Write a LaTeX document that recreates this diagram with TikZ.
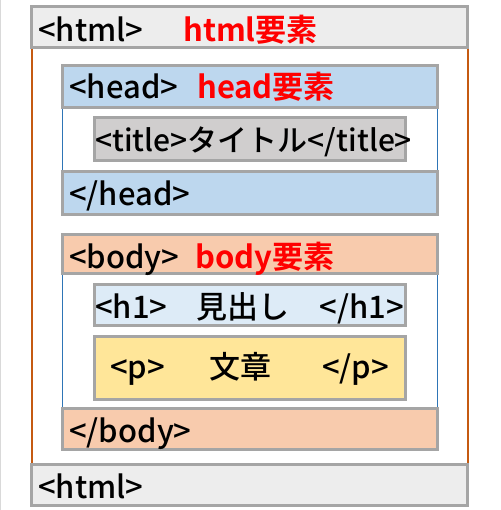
\documentclass[tikz,border=0pt]{standalone}
\usepackage{fontspec}
\setmainfont{Noto Sans CJK JP Medium}[BoldFont={Noto Sans CJK JP Bold}]
\usetikzlibrary{backgrounds}
\definecolor{boxgray}{HTML}{A5A5A5}
\definecolor{htmlfill}{HTML}{EDEDED}
\definecolor{headfill}{HTML}{BDD7EE}
\definecolor{titlefill}{HTML}{D0CECE}
\definecolor{bodyfill}{HTML}{F8CBAD}
\definecolor{hfill}{HTML}{DDEBF7}
\definecolor{pfill}{HTML}{FFE699}
\definecolor{htmlline}{HTML}{C55A11}
\definecolor{headline}{HTML}{2E75B6}
\definecolor{tagred}{HTML}{FF0000}

\begin{document}
\begin{tikzpicture}[x=1pt,y=-1pt,
		box/.style={draw=boxgray,line width=3pt,anchor=north west,inner sep=0pt,outer sep=0pt},
		txt/.style={anchor=base west,inner sep=0pt,font=\fontsize{31}{36}\selectfont},
		redtxt/.style={txt,text=tagred,font=\fontsize{31}{36}\selectfont\bfseries}]
		\useasboundingbox (0,0) rectangle (500,510);
		\draw[black!15,line width=1pt] (0.5,0) -- (0.5,510);
		\node[box,fill=htmlfill,minimum width=436pt,minimum height=41pt] (htmlopen) at (31.5,6.5) {};
		\node[box,fill=headfill,minimum width=375pt,minimum height=42pt] (headopen) at (62.5,65.5) {};
		\node[box,fill=titlefill,minimum width=311pt,minimum height=43pt] (title) at (94.5,117.5) {};
		\node[box,fill=headfill,minimum width=375pt,minimum height=43pt] (headclose) at (62.5,171.5) {};
		\node[box,fill=bodyfill,minimum width=375pt,minimum height=39pt] (bodyopen) at (62.5,234.5) {};
		\node[box,fill=hfill,minimum width=311pt,minimum height=41pt] (h1) at (94.5,284.5) {};
		\node[box,fill=pfill,minimum width=311pt,minimum height=63pt] (p) at (94.5,336.5) {};
		\node[box,fill=bodyfill,minimum width=375pt,minimum height=41pt] (bodyclose) at (62.5,408.5) {};
		\node[box,fill=htmlfill,minimum width=436pt,minimum height=41pt] (htmlclose) at (31.5,464.5) {};
		\begin{scope}[on background layer]
			\draw[htmlline,line width=2pt] (htmlopen.south west) -- (htmlclose.north west)
				(htmlopen.south east) -- (htmlclose.north east);
			\foreach \a/\b in {headopen/headclose,bodyopen/bodyclose}
				\draw[headline,line width=1.5pt] (\a.south west) -- (\b.north west)
					(\a.south east) -- (\b.north east);
		\end{scope}
		\node[txt] (htmlopentag) at (38,42) {<html>};
		\node[redtxt] (htmlname) at (183,42) {html要素};
		\node[txt] (headopentag) at (69,99) {<head>};
		\node[redtxt] (headname) at (197,99) {head要素};
		\node[txt,font=\fontsize{30}{36}\selectfont] (titletag) at (95,152) {<title>タイトル</title>};
		\node[txt] (headclosetag) at (69,206) {</head>};
		\node[txt] (bodyopentag) at (69,268) {<body>};
		\node[redtxt] (bodyname) at (195,268) {body要素};
		\node[txt] (h1open) at (95,318) {<h1>};
		\node[txt] (h1text) at (196,318) {見出し};
		\node[txt,anchor=base east] (h1close) at (404,318) {</h1>};
		\node[txt] (popen) at (110,378) {<p>};
		\node[txt] (ptext) at (209,378) {文章};
		\node[txt] (pclose) at (322,378) {</p>};
		\node[txt] (bodyclosetag) at (69,442) {</body>};
		\node[txt] (htmlclosetag) at (38,498) {<html>};
	\end{tikzpicture}
\end{document}
